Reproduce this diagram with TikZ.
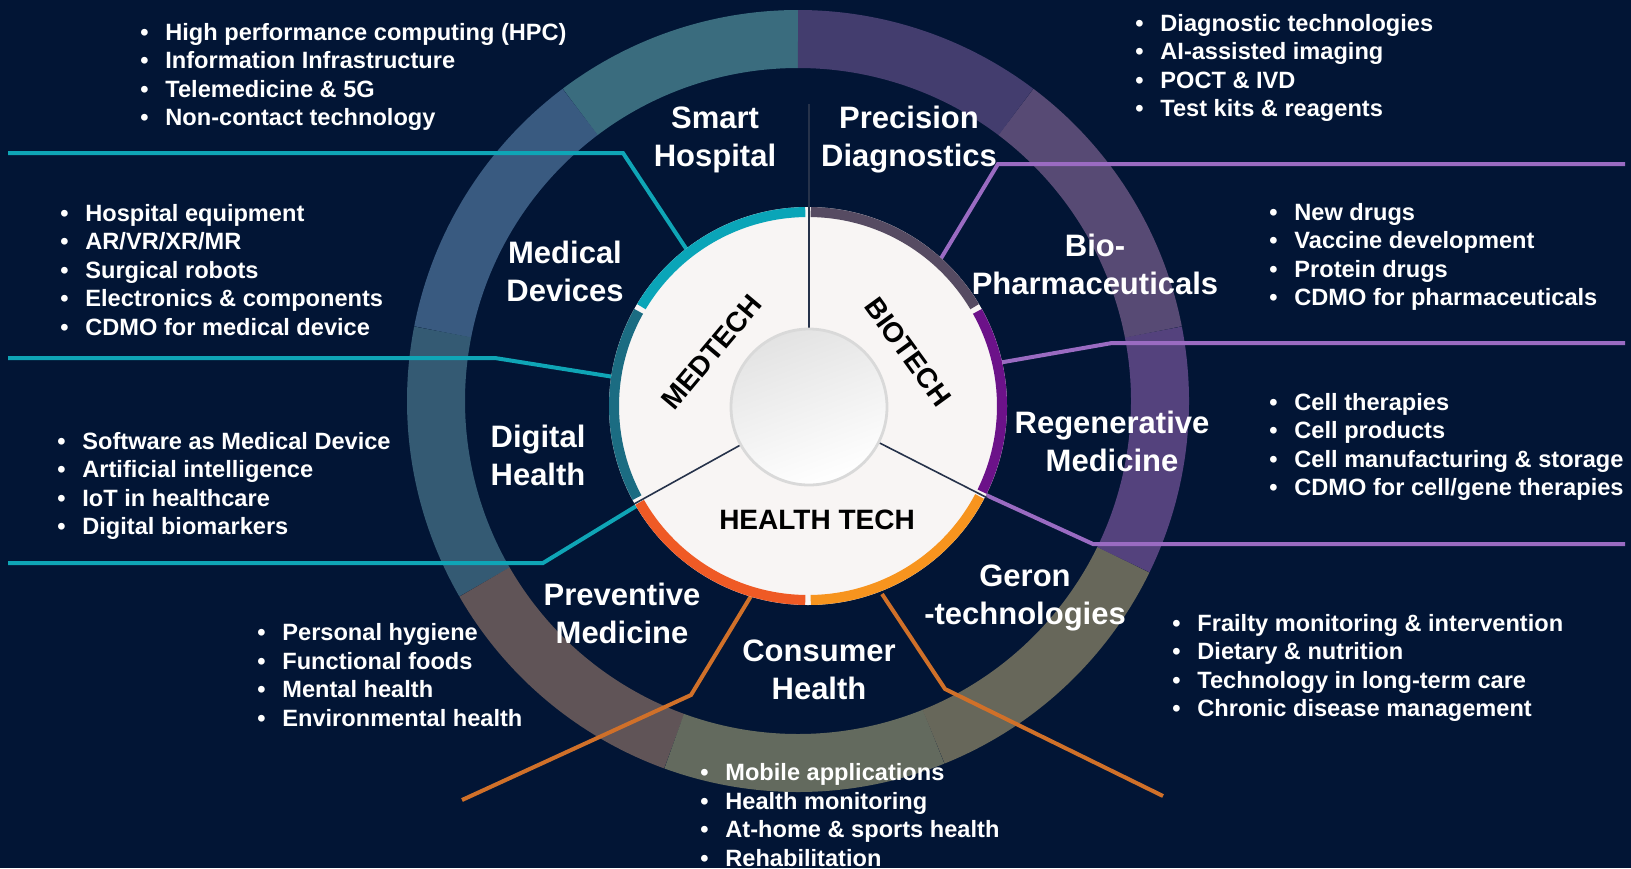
\documentclass[tikz,border=0pt]{standalone}
\usepackage{fontspec}
\setmainfont{Liberation Sans}

\definecolor{navybg}{HTML}{021535}
\definecolor{segSH}{HTML}{3A6C7E}
\definecolor{segMD}{HTML}{395A80}
\definecolor{segDH}{HTML}{345A73}
\definecolor{segPM}{HTML}{605457}
\definecolor{segCH}{HTML}{636A5E}
\definecolor{segGT}{HTML}{67675A}
\definecolor{segRM}{HTML}{54427D}
\definecolor{segBP}{HTML}{574A74}
\definecolor{segPD}{HTML}{433D6E}
\definecolor{rimcyan}{HTML}{0AA5B8}
\definecolor{rimteal}{HTML}{1B6C82}
\definecolor{rimred}{HTML}{EF5A25}
\definecolor{rimorange}{HTML}{F7941E}
\definecolor{rimpurple}{HTML}{6C1289}
\definecolor{rimgray}{HTML}{564B62}
\definecolor{leadteal}{HTML}{0FA5B6}
\definecolor{leadpurple}{HTML}{9A6BC2}
\definecolor{leadorange}{HTML}{D07029}
\definecolor{diskwhite}{HTML}{F8F5F4}
\definecolor{divline}{HTML}{26324A}

\tikzset{
    ringpart/.style = {line width = 29pt},
    rimpart/.style = {line width = 5pt},
    leader/.style = {line width = 2pt, line join = miter},
    divider/.style = {divline, line width = 0.8pt},
    topic/.style = {text = white, font = \bfseries\fontsize{15.5}{19}\selectfont, align = center, inner sep = 0pt},
    items/.style = {text = white, font = \bfseries\fontsize{11.8}{14.25}\selectfont, align = left, anchor = west, inner sep = 0pt},
    core/.style = {text = black, font = \bfseries\fontsize{14}{16}\selectfont, inner sep = 0pt}
}

\newcommand{\bitem}[1]{\makebox[12.5pt][l]{\textbullet}#1}

\begin{document}
\begin{tikzpicture}[x = 0.5pt, y = -0.5pt]
    \useasboundingbox (0,0) rectangle (1631,868);
    \fill[navybg] (0,0) rectangle (1631,868);

    \coordinate (rc) at (798,401);
    \coordinate (dc) at (808,406);
    \coordinate (ic) at (809,407);

    % outer ring
    \begin{scope}[style = ringpart]
        \draw[segSH] (rc) ++(-90:362) arc[start angle = -90, end angle = -127, radius = 362];
        \draw[segMD] (rc) ++(-127:362) arc[start angle = -127, end angle = -169, radius = 362];
        \draw[segDH] (rc) ++(-169:362) arc[start angle = -169, end angle = -210, radius = 362];
        \draw[segPM] (rc) ++(-210:362) arc[start angle = -210, end angle = -250, radius = 362];
        \draw[segCH] (rc) ++(-250:362) arc[start angle = -250, end angle = -292, radius = 362];
        \draw[segGT] (rc) ++(-292:362) arc[start angle = -292, end angle = -334, radius = 362];
        \draw[segRM] (rc) ++(-334:362) arc[start angle = -334, end angle = -371, radius = 362];
        \draw[segBP] (rc) ++(-11:362) arc[start angle = -11, end angle = -53, radius = 362];
        \draw[segPD] (rc) ++(-53:362) arc[start angle = -53, end angle = -90, radius = 362];
    \end{scope}

    % leader lines
    \coordinate (hosp-w) at (8,153);
    \coordinate (hosp-k) at (623,153);
    \coordinate (hosp-e) at (687,250);
    \coordinate (dev-w) at (8,358);
    \coordinate (dev-k) at (495,358);
    \coordinate (dev-e) at (614,377);
    \coordinate (dig-w) at (8,563);
    \coordinate (dig-k) at (543,563);
    \coordinate (dig-e) at (638,505);
    \coordinate (diag-e) at (1625,164);
    \coordinate (diag-k) at (998,164);
    \coordinate (diag-w) at (940,260);
    \coordinate (pharm-e) at (1625,343);
    \coordinate (pharm-k) at (1112,343);
    \coordinate (pharm-w) at (998,363);
    \coordinate (regen-e) at (1625,544);
    \coordinate (regen-k) at (1093,544);
    \coordinate (regen-w) at (986,495);
    \coordinate (prev-n) at (751,596);
    \coordinate (prev-k) at (691,695);
    \coordinate (prev-s) at (462,800);
    \coordinate (cons-n) at (882,594);
    \coordinate (cons-k) at (945,689);
    \coordinate (cons-s) at (1163,796);
    \begin{scope}[style = leader]
        \draw[leadteal] (hosp-w) -- (hosp-k) -- (hosp-e);
        \draw[leadteal] (dev-w) -- (dev-k) -- (dev-e);
        \draw[leadteal] (dig-w) -- (dig-k) -- (dig-e);
        \draw[leadpurple] (diag-e) -- (diag-k) -- (diag-w);
        \draw[leadpurple] (pharm-e) -- (pharm-k) -- (pharm-w);
        \draw[leadpurple] (regen-e) -- (regen-k) -- (regen-w);
        \draw[leadorange] (prev-n) -- (prev-k) -- (prev-s);
        \draw[leadorange] (cons-n) -- (cons-k) -- (cons-s);
    \end{scope}

    % white disk with coloured rim
    \fill[diskwhite] (dc) circle[radius = 199];
    \begin{scope}[style = rimpart]
        \draw[rimcyan] (dc) ++(-90.8:194) arc[start angle = -90.8, end angle = -149.2, radius = 194];
        \draw[rimteal] (dc) ++(-150.8:194) arc[start angle = -150.8, end angle = -208.2, radius = 194];
        \draw[rimred] (dc) ++(-209.8:194) arc[start angle = -209.8, end angle = -269.2, radius = 194];
        \draw[rimorange] (dc) ++(-270.8:194) arc[start angle = -270.8, end angle = -332.2, radius = 194];
        \draw[rimpurple] (dc) ++(-333.8:194) arc[start angle = -333.8, end angle = -389.2, radius = 194];
        \draw[rimgray] (dc) ++(-30.8:194) arc[start angle = -30.8, end angle = -89.2, radius = 194];
    \end{scope}

    \coordinate (topend) at (809,104);
    \draw[divider] (ic) ++(-90:78) -- (topend);
    \draw[divider] (ic) ++(-209:78) -- ++(-209:122);
    \draw[divider] (ic) ++(-333:78) -- ++(-333:122);

    \shade[top color = gray!22, bottom color = white, shading angle = 20] (ic) circle[radius = 78];
    \draw[gray!30, line width = 1.4pt] (ic) circle[radius = 78];

    % core labels
    \node[core, rotate = 50] (medtech) at (712,352) {MEDTECH};
    \node[core, rotate = -54] (biotech) at (908,352) {BIOTECH};
    \node[core] (healthtech) at (817,520) {HEALTH TECH};

    % topic labels
    \node[topic] (smarthosp) at (715,140) {Smart\\Hospital};
    \node[topic] (precdiag) at (909,140) {Precision\\Diagnostics};
    \node[topic] (biopharm) at (1095,264) {Bio-\\Pharmaceuticals};
    \node[topic] (regenmed) at (1112,441) {Regenerative\\Medicine};
    \node[topic] (gerontech) at (1025,598) {Geron\\-technologies};
    \node[topic] (conshealth) at (819,670) {Consumer\\Health};
    \node[topic] (prevmed) at (622,613) {Preventive\\Medicine};
    \node[topic] (dighealth) at (538,455) {Digital\\Health};
    \node[topic] (meddev) at (565,271) {Medical\\Devices};

    % item lists
    \node[items] (hosplist) at (140,77) {\bitem{High performance computing (HPC)}\\
        \bitem{Information Infrastructure}\\
        \bitem{Telemedicine \& 5G}\\
        \bitem{Non-contact technology}};
    \node[items] (diaglist) at (1135,68) {\bitem{Diagnostic technologies}\\
        \bitem{AI-assisted imaging}\\
        \bitem{POCT \& IVD}\\
        \bitem{Test kits \& reagents}};
    \node[items] (devlist) at (60,270) {\bitem{Hospital equipment}\\
        \bitem{AR/VR/XR/MR}\\
        \bitem{Surgical robots}\\
        \bitem{Electronics \& components}\\
        \bitem{CDMO for medical device}};
    \node[items] (diglist) at (57,486) {\bitem{Software as Medical Device}\\
        \bitem{Artificial intelligence}\\
        \bitem{IoT in healthcare}\\
        \bitem{Digital biomarkers}};
    \node[items] (pharmlist) at (1269,257) {\bitem{New drugs}\\
        \bitem{Vaccine development}\\
        \bitem{Protein drugs}\\
        \bitem{CDMO for pharmaceuticals}};
    \node[items] (regenlist) at (1269,447) {\bitem{Cell therapies}\\
        \bitem{Cell products}\\
        \bitem{Cell manufacturing \& storage}\\
        \bitem{CDMO for cell/gene therapies}};
    \node[items] (geronlist) at (1172,668) {\bitem{Frailty monitoring \& intervention}\\
        \bitem{Dietary \& nutrition}\\
        \bitem{Technology in long-term care}\\
        \bitem{Chronic disease management}};
    \node[items] (prevlist) at (257,675) {\bitem{Personal hygiene}\\
        \bitem{Functional foods}\\
        \bitem{Mental health}\\
        \bitem{Environmental health}};
    \node[items] (conslist) at (700,815) {\bitem{Mobile applications}\\
        \bitem{Health monitoring}\\
        \bitem{At-home \& sports health}\\
        \bitem{Rehabilitation}};
\end{tikzpicture}
\end{document}
